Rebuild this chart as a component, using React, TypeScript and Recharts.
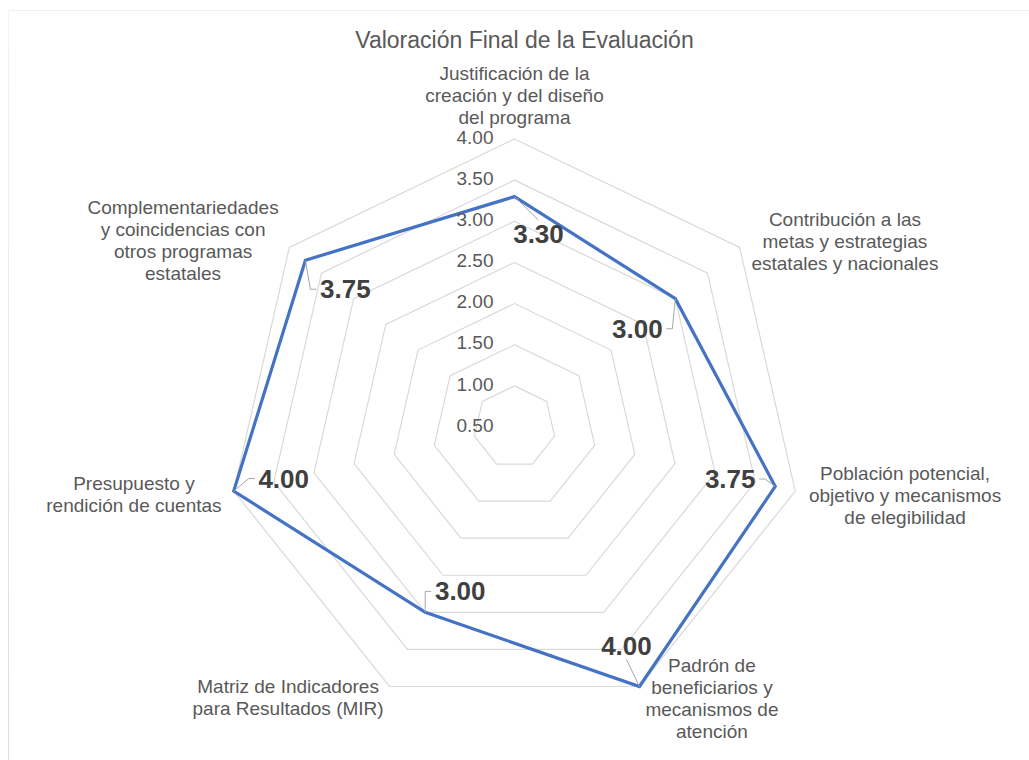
import React from 'react';
import { LabelList, PolarAngleAxis, PolarGrid, PolarRadiusAxis, Radar, RadarChart } from 'recharts';

const categories = [
  'Justificación de la\ncreación y del diseño\ndel programa',
  'Contribución a las\nmetas y estrategias\nestatales y nacionales',
  'Población potencial,\nobjetivo y mecanismos\nde elegibilidad',
  'Padrón de\nbeneficiarios y\nmecanismos de\natención',
  'Matriz de Indicadores\npara Resultados (MIR)',
  'Presupuesto y\nrendición de cuentas',
  'Complementariedades\ny coincidencias con\notros programas\nestatales',
];
const scores = [3.3, 3.0, 3.75, 4.0, 3.0, 4.0, 3.75];
const radiusTicks = [0.5, 1, 1.5, 2, 2.5, 3, 3.5, 4];
const title = 'Valoración Final de la Evaluación';

const data = categories.map((categoria, i) => ({ categoria, valor: scores[i] }));

// layout nudges (Excel placed these by hand)
const CATEGORY_OFFSETS = [[0, -36], [99, -1], [102, 2], [69, 5], [-98, 4], [-92, 1], [-100, -2]];
const LABEL_OFFSETS = [[24, 37.5], [-38, 30], [-45, -7.5], [-13, -41], [35, -21], [50, -12.5], [40, 29]];

const TEXT = '#595959';
const FONT = 19;
const LINE_H = 22;

const AngleTick = (props: any) => {
  const { x, y, payload, index } = props;
  const lines = String(payload.value).split('\n');
  const [dx, dy] = CATEGORY_OFFSETS[index] ?? [0, 0];
  const top = y + dy - ((lines.length - 1) * LINE_H) / 2;
  return (
    <text textAnchor='middle' fill={TEXT} fontSize={FONT}>
      {lines.map((l, i) => (
        <tspan key={i} x={x + dx} y={top + i * LINE_H + FONT * 0.35}>{l}</tspan>
      ))}
    </text>
  );
};

const RadiusTick = (props: any) => {
  const { x, y, payload } = props;
  return (
    <text x={x - 21} y={y - 2 + FONT * 0.35} textAnchor='end' fill={TEXT} fontSize={FONT}>
      {Number(payload.value).toFixed(2)}
    </text>
  );
};

const ValueLabel = (props: any) => {
  const { index, value } = props;
  const px = props.x ?? props.viewBox?.x;
  const py = props.y ?? props.viewBox?.y;
  if (px == null || py == null) return null;
  const [dx, dy] = LABEL_OFFSETS[index] ?? [0, 0];
  const lx = px + dx;
  const ly = py + dy;
  const hw = 26;
  const hh = 11;
  let path: string;
  if (Math.abs(px - lx) > hw + 2) {
    const s = px < lx ? -1 : 1;
    const ex = lx + s * (hw + 3);
    path = `M${ex},${ly} L${ex + s * 6},${ly} L${px},${py}`;
  } else {
    const s = py < ly ? -1 : 1;
    path = `M${lx},${ly + s * (hh + 3)} L${px},${py}`;
  }
  return (
    <g>
      <path d={path} stroke='#A6A6A6' strokeWidth={1} fill='none' />
      <text x={lx} y={ly + 26 * 0.35} textAnchor='middle' fill='#404040' fontSize={26} fontWeight='bold'>
        {Number(value).toFixed(2)}
      </text>
    </g>
  );
};

export default function App() {
  return (
    <div
      style={{
        position: 'absolute',
        left: 0,
        top: 0,
        width: 1029,
        height: 760,
        background: '#fff',
        fontFamily: '"Liberation Sans", Arial, sans-serif',
      }}
    >
      <div style={{ position: 'absolute', left: 8, top: 10, right: 0, height: 1, background: '#f1f1f4' }} />
      <div
        style={{
          position: 'absolute',
          left: 8,
          top: 10,
          width: 1,
          bottom: 0,
          background: 'linear-gradient(#f3f3f6, #d4def0)',
        }}
      />
      <div
        style={{
          position: 'absolute',
          left: 10,
          top: 28,
          width: 1029,
          textAlign: 'center',
          fontSize: 23,
          lineHeight: '24px',
          color: TEXT,
        }}
      >
        {title}
      </div>
      <div style={{ position: 'absolute', left: 0, top: 0 }}>
        <RadarChart
          width={1029}
          height={760}
          data={data}
          cx={514.5}
          cy={427}
          outerRadius={288}
          margin={{ top: 0, right: 0, bottom: 0, left: 0 }}
        >
          <PolarGrid gridType='polygon' radialLines={false} stroke='#D9D9D9' strokeWidth={1.2} />
          <PolarAngleAxis dataKey='categoria' tick={<AngleTick />} axisLine={false} tickLine={false} />
          <PolarRadiusAxis
            angle={90}
            type='number'
            domain={[0.5, 4]}
            ticks={radiusTicks}
            tick={<RadiusTick />}
            axisLine={false}
            tickLine={false}
          />
          <Radar
            dataKey='valor'
            stroke='#4472C4'
            strokeWidth={3.2}
            fill='none'
            fillOpacity={0}
            dot={false}
            isAnimationActive={false}
          >
            <LabelList dataKey='valor' content={<ValueLabel />} />
          </Radar>
        </RadarChart>
      </div>
    </div>
  );
}
